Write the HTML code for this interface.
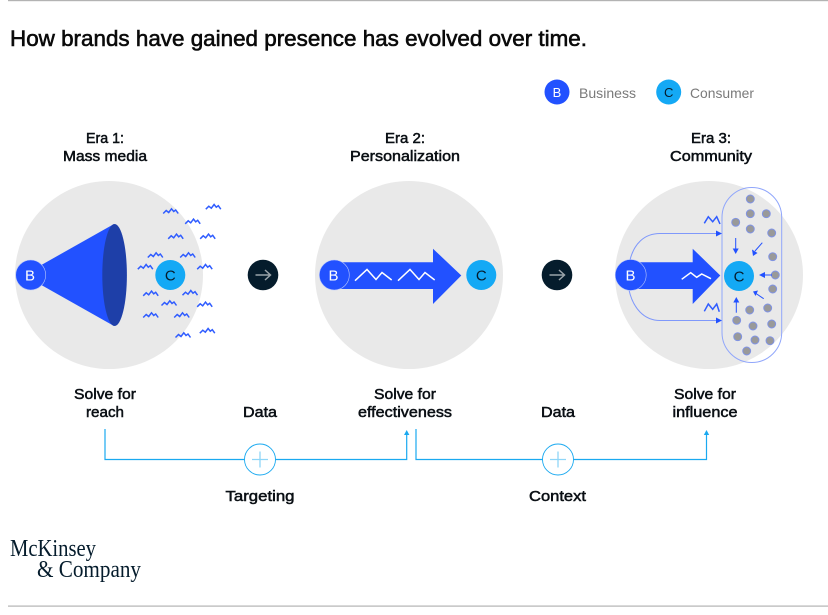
<!DOCTYPE html>
<html><head><meta charset="utf-8"><style>
html,body{margin:0;padding:0;background:#fff;width:828px;height:615px;overflow:hidden}
svg{display:block}
text{font-family:"Liberation Sans",sans-serif}
.l{font-size:14.5px;fill:#0a0f14;stroke:#0a0f14;stroke-width:.5px;text-anchor:middle}
.w{fill:none;stroke:#2f5cff;stroke-width:1.5}
.d{fill:#999;stroke:#7f93e8;stroke-width:.9}
.a{stroke:#2251ff;stroke-width:1;fill:none}
.ah{fill:#2251ff}
.n{font-size:15px;text-anchor:middle}
</style></head><body>
<svg width="828" height="615" viewBox="0 0 828 615" xmlns="http://www.w3.org/2000/svg">
<defs>
<path id="wv" d="M-7.5 2.5L-4.5 -.5L-2 1.5L.8 -2.2L3 .5L5 -1L7.5 2.5" class="w"/>
<g id="dk"><circle r="15.3" fill="#051c2c"/><path d="M-7.5 0H7M2 -5L7.5 0L2 5" fill="none" stroke="#9aa3a9" stroke-width="1.5"/></g>
</defs>
<rect x="8" y="0" width="820" height="1.2" fill="#b3b3b3"/>
<rect x="8" y="605.5" width="820" height="1.2" fill="#b3b3b3"/>
<text x="10" y="46" font-size="22" fill="#0a0a0a" stroke="#0a0a0a" stroke-width=".6" textLength="577" lengthAdjust="spacingAndGlyphs">How brands have gained presence has evolved over time.</text>

<circle cx="557" cy="92" r="12.5" fill="#2251ff"/><text x="557" y="97" font-size="13" fill="#fff" text-anchor="middle">B</text>
<text x="579" y="98" font-size="14" fill="#7a7a7a" textLength="57" lengthAdjust="spacingAndGlyphs">Business</text>
<circle cx="668.7" cy="92" r="12.5" fill="#14a9f5"/><text x="668.7" y="97" font-size="13" fill="#051c2c" text-anchor="middle">C</text>
<text x="690" y="98" font-size="14" fill="#7a7a7a" textLength="64" lengthAdjust="spacingAndGlyphs">Consumer</text>

<text class="l" x="105" y="143" textLength="38" lengthAdjust="spacingAndGlyphs">Era 1:</text>
<text class="l" x="105" y="161" textLength="84" lengthAdjust="spacingAndGlyphs">Mass media</text>
<text class="l" x="405" y="143" textLength="40" lengthAdjust="spacingAndGlyphs">Era 2:</text>
<text class="l" x="405" y="161" textLength="110" lengthAdjust="spacingAndGlyphs">Personalization</text>
<text class="l" x="711" y="143" textLength="40" lengthAdjust="spacingAndGlyphs">Era 3:</text>
<text class="l" x="711" y="161" textLength="82" lengthAdjust="spacingAndGlyphs">Community</text>

<!-- Era 1 -->
<circle cx="109" cy="275" r="94" fill="#e9e9e9"/>
<path d="M36 268L114 224V326L36 282Z" fill="#2251ff"/>
<ellipse cx="114.6" cy="275" rx="12.3" ry="51" fill="#1e3fa8"/>
<circle cx="30.7" cy="275" r="15" fill="#2251ff" stroke="#b9c7fb" stroke-width=".6"/>
<text class="n" x="30" y="280.5" fill="#fff">B</text>
<circle cx="170.3" cy="275" r="15" fill="#14a9f5"/>
<text class="n" x="170.3" y="280.5" fill="#051c2c">C</text>
<use href="#wv" x="170.7" y="211"/><use href="#wv" x="213.3" y="206.7"/><use href="#wv" x="192.7" y="221.3"/>
<use href="#wv" x="175.7" y="236.3"/><use href="#wv" x="207.7" y="236.3"/><use href="#wv" x="155.3" y="255"/>
<use href="#wv" x="187.7" y="255"/><use href="#wv" x="145.3" y="266.7"/><use href="#wv" x="204.7" y="266.7"/>
<use href="#wv" x="150.7" y="293.3"/><use href="#wv" x="190" y="292.7"/><use href="#wv" x="169" y="303"/>
<use href="#wv" x="204.7" y="304.3"/><use href="#wv" x="150.7" y="315"/><use href="#wv" x="181.7" y="315"/>
<use href="#wv" x="183" y="335"/><use href="#wv" x="207.3" y="330.7"/>
<use href="#dk" x="263" y="275"/>

<!-- Era 2 -->
<circle cx="409" cy="275" r="94" fill="#e9e9e9"/>
<path d="M334 262.3H433V248.7L461.3 275.5L433 304V289H334Z" fill="#2251ff"/>
<circle cx="334.3" cy="275" r="15" fill="#2251ff" stroke="#b9c7fb" stroke-width=".6"/>
<text class="n" x="333.5" y="280.5" fill="#fff">B</text>
<path d="M355 280.7L367 269.5L376 279.5L382 272.5L391.7 280M398 280.7L410 269.5L419 279.5L425 272.5L434.7 280" fill="none" stroke="#fff" stroke-width="1.5"/>
<circle cx="481.3" cy="275" r="15" fill="#14a9f5"/>
<text class="n" x="481.3" y="280.5" fill="#051c2c">C</text>
<use href="#dk" x="557" y="275"/>

<!-- Era 3 -->
<circle cx="709" cy="275" r="94" fill="#e9e9e9"/>
<rect x="722" y="187.5" width="59.7" height="175" rx="30" fill="none" stroke="#90a6fb" stroke-width="1"/>
<path d="M630 262.3H692.7V248.7L720.3 275.5L692.7 304V289H630Z" fill="#2251ff"/>
<path d="M630 260C634 244 644 233.5 660 233.5H718" fill="none" stroke="#7f98fb" stroke-width="1"/>
<path d="M629 290C633 308 644 320.5 660 320.5H718" fill="none" stroke="#7f98fb" stroke-width="1"/>
<path d="M716 230.5L722 233.5L716 236.5ZM716 317.5L722 320.5L716 323.5Z" class="ah"/>
<circle cx="630.7" cy="275" r="15.5" fill="#2251ff" stroke="#b9c7fb" stroke-width=".6"/>
<text class="n" x="630.5" y="280.5" fill="#fff">B</text>
<path d="M681.7 279.3L690.7 272.7L696.7 277.3L701.7 274L711 278.7" fill="none" stroke="#fff" stroke-width="1.5"/>
<path d="M704.3 223.3L708.3 216.7L712.7 221.7L716.7 216.7L720 224" class="w"/>
<path d="M704.3 311.3L708.3 304L712.7 309.3L716.7 304L719.3 311.7" class="w"/>
<circle cx="739" cy="276" r="15" fill="#14a9f5"/>
<text class="n" x="739" y="281.5" fill="#051c2c">C</text>
<g class="d">
<circle cx="750.3" cy="199" r="4"/><circle cx="750.3" cy="213.7" r="4"/><circle cx="766.3" cy="213.7" r="4"/>
<circle cx="735.7" cy="222.3" r="4"/><circle cx="750.3" cy="229" r="4"/><circle cx="771.7" cy="233" r="4"/>
<circle cx="772.7" cy="256.7" r="4"/><circle cx="775.3" cy="275" r="4"/><circle cx="772.7" cy="289" r="4"/>
<circle cx="767.7" cy="308" r="4"/><circle cx="749.7" cy="310" r="4"/><circle cx="736.7" cy="320.3" r="4"/>
<circle cx="753" cy="326" r="4"/><circle cx="771.7" cy="324" r="4"/><circle cx="737.7" cy="336.7" r="4"/>
<circle cx="755" cy="340" r="4"/><circle cx="770" cy="340.7" r="4"/><circle cx="746.7" cy="351" r="4"/>
</g>
<g class="a">
<path d="M735.7 238V250"/><path d="M762.3 242.7L755 251"/><path d="M772 275H762"/><path d="M763.7 298.7L756 293.5"/><path d="M736.3 312.7V302"/>
</g>
<g class="ah">
<path d="M732.7 248.5H738.7L735.7 254Z"/><path d="M752 249.5L757.5 253L753 256Z"/><path d="M765 272L765 278L759 275Z"/>
<path d="M758 290.5L753 291.5L755.5 296Z"/><path d="M733.3 302.5H739.3L736.3 297Z"/>
</g>

<!-- bottom labels -->
<text class="l" x="105" y="399" textLength="62" lengthAdjust="spacingAndGlyphs">Solve for</text>
<text class="l" x="105" y="417" textLength="38" lengthAdjust="spacingAndGlyphs">reach</text>
<text class="l" x="405" y="399" textLength="62" lengthAdjust="spacingAndGlyphs">Solve for</text>
<text class="l" x="405" y="417" textLength="94" lengthAdjust="spacingAndGlyphs">effectiveness</text>
<text class="l" x="705" y="399" textLength="62" lengthAdjust="spacingAndGlyphs">Solve for</text>
<text class="l" x="705" y="417" textLength="65" lengthAdjust="spacingAndGlyphs">influence</text>
<text class="l" x="260" y="417" textLength="34" lengthAdjust="spacingAndGlyphs">Data</text>
<text class="l" x="558" y="417" textLength="34" lengthAdjust="spacingAndGlyphs">Data</text>
<text class="l" x="260" y="501" textLength="69" lengthAdjust="spacingAndGlyphs">Targeting</text>
<text class="l" x="557.5" y="501" textLength="57" lengthAdjust="spacingAndGlyphs">Context</text>

<g fill="none" stroke="#1aa9f0" stroke-width="1.2">
<path d="M105 429V459.5H406.7V433"/>
<path d="M416 429V459.5H706.5V433"/>
<circle cx="260" cy="459.5" r="15.5" fill="#fff" stroke-width=".9"/>
<circle cx="558" cy="459.5" r="15.5" fill="#fff" stroke-width=".9"/>
<path d="M252 459.5H268M260 451.5V467.5M550 459.5H566M558 451.5V467.5" stroke="#8fd6f8" stroke-width="1.3"/>
</g>
<path d="M404 435L406.7 430L409.4 435ZM703.8 435L706.5 430L709.2 435Z" fill="#1aa9f0"/>

<text x="10" y="556" font-size="24" fill="#051c2c" style="font-family:'Liberation Serif',serif" textLength="86" lengthAdjust="spacingAndGlyphs">McKinsey</text>
<text x="37" y="577" font-size="24" fill="#051c2c" style="font-family:'Liberation Serif',serif" textLength="104" lengthAdjust="spacingAndGlyphs">&amp; Company</text>
</svg>
</body></html>
